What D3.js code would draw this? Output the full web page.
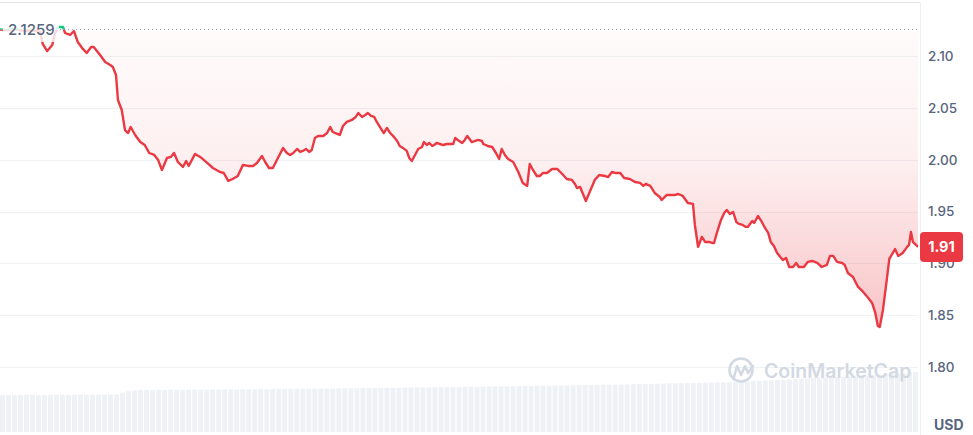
<!DOCTYPE html>
<html>
<head>
<meta charset="utf-8">
<script src="https://cdn.jsdelivr.net/npm/d3@7"></script>
<style>
  html, body { margin: 0; padding: 0; background: #fff; }
  svg { display: block; font-family: Inter, "Noto Sans", sans-serif; }
</style>
</head>
<body>
<svg id="chart" width="973" height="435"></svg>
<script>
// minutes since the start of the 24h window
var minutes = [0, 13, 25, 38, 50, 63, 67, 74, 82, 86, 91, 99, 102, 110, 116, 122, 130, 136, 143, 147,
  157, 165, 173, 177, 182, 185, 191, 196, 201, 205, 212, 220, 227, 234, 242, 248, 254, 262, 268, 273,
  279, 287, 292, 296, 306, 314, 325, 334, 345, 351, 358, 365, 373, 381, 389, 397, 403, 411, 416, 422,
  428, 436, 444, 450, 455, 460, 466, 471, 475, 480, 485, 489, 494, 499, 507, 513, 518, 522, 529, 533,
  538, 544, 552, 558, 562, 568, 573, 577, 582, 587, 591, 599, 602, 607, 612, 618, 623, 627, 632, 638,
  642, 646, 651, 656, 662, 665, 670, 673, 678, 681, 685, 690, 695, 701, 706, 711, 714, 718, 725, 729,
  733, 740, 750, 756, 758, 765, 772, 778, 783, 787, 792, 797, 805, 813, 820, 827, 831, 836, 842, 847,
  852, 858, 866, 874, 882, 889, 897, 902, 905, 910, 919, 925, 933, 940, 949, 954, 960, 965, 973, 979,
  988, 996, 1004, 1009, 1013, 1020, 1027, 1035, 1038, 1046, 1054, 1059, 1064, 1071, 1079, 1087, 1090, 1095, 1101, 1106,
  1112, 1117, 1120, 1125, 1131, 1136, 1140, 1145, 1150, 1155, 1159, 1165, 1170, 1173, 1180, 1183, 1189, 1195, 1200, 1205,
  1209, 1214, 1219, 1224, 1228, 1233, 1238, 1244, 1249, 1253, 1261, 1267, 1274, 1282, 1289, 1297, 1302, 1307, 1313, 1321,
  1325, 1330, 1338, 1346, 1354, 1362, 1368, 1373, 1377, 1380, 1385, 1391, 1395, 1404, 1409, 1416, 1423, 1426, 1429, 1432,
  1440];

var prices = [2.1259, 2.1254, 2.1264, 2.1244, 2.1254, 2.1235, 2.1119, 2.1051, 2.1109, 2.1215, 2.1283, 2.1283, 2.1225, 2.1206, 2.1244, 2.1138, 2.1071, 2.1032, 2.1090, 2.1090,
  2.1013, 2.0945, 2.0916, 2.0897, 2.0819, 2.0578, 2.0481, 2.0288, 2.0259, 2.0317, 2.0240, 2.0172, 2.0143, 2.0066, 2.0047, 1.9999, 1.9902, 2.0018, 2.0028, 2.0066,
  1.9979, 1.9931, 1.9989, 1.9941, 2.0057, 2.0028, 1.9970, 1.9921, 1.9883, 1.9873, 1.9796, 1.9815, 1.9844, 1.9950, 1.9941, 1.9941, 1.9970, 2.0037, 1.9979, 1.9921,
  1.9921, 2.0018, 2.0115, 2.0066, 2.0047, 2.0066, 2.0105, 2.0076, 2.0086, 2.0105, 2.0076, 2.0095, 2.0211, 2.0230, 2.0230, 2.0259, 2.0317, 2.0269, 2.0250, 2.0240,
  2.0327, 2.0366, 2.0385, 2.0414, 2.0452, 2.0414, 2.0433, 2.0452, 2.0424, 2.0414, 2.0366, 2.0288, 2.0259, 2.0308, 2.0259, 2.0221, 2.0182, 2.0134, 2.0115, 2.0086,
  2.0018, 1.9989, 2.0047, 2.0105, 2.0124, 2.0172, 2.0143, 2.0163, 2.0134, 2.0143, 2.0163, 2.0153, 2.0143, 2.0153, 2.0153, 2.0153, 2.0211, 2.0192, 2.0163, 2.0192,
  2.0230, 2.0172, 2.0192, 2.0182, 2.0153, 2.0134, 2.0124, 2.0066, 2.0008, 2.0105, 2.0047, 2.0008, 1.9979, 1.9883, 1.9777, 1.9748, 1.9960, 1.9902, 1.9844, 1.9844,
  1.9873, 1.9873, 1.9912, 1.9912, 1.9863, 1.9815, 1.9806, 1.9767, 1.9728, 1.9738, 1.9603, 1.9690, 1.9806, 1.9854, 1.9844, 1.9834, 1.9883, 1.9873, 1.9873, 1.9825,
  1.9815, 1.9786, 1.9777, 1.9748, 1.9767, 1.9748, 1.9680, 1.9641, 1.9612, 1.9661, 1.9661, 1.9661, 1.9670, 1.9651, 1.9583, 1.9574, 1.9371, 1.9159, 1.9255, 1.9207,
  1.9207, 1.9197, 1.9197, 1.9304, 1.9419, 1.9487, 1.9516, 1.9477, 1.9497, 1.9400, 1.9381, 1.9371, 1.9352, 1.9352, 1.9410, 1.9390, 1.9458, 1.9400, 1.9342, 1.9294,
  1.9207, 1.9168, 1.9101, 1.9062, 1.9033, 1.9052, 1.8965, 1.8965, 1.9004, 1.8965, 1.8965, 1.9014, 1.9023, 1.9004, 1.8965, 1.8985, 1.9072, 1.9072, 1.9014, 1.9004,
  1.8985, 1.8907, 1.8869, 1.8772, 1.8724, 1.8666, 1.8618, 1.8521, 1.8396, 1.8386, 1.8550, 1.8840, 1.9043, 1.9139, 1.9072, 1.9101, 1.9159, 1.9178, 1.9304, 1.9207,
  1.9159];

var openPrice = 2.1259;
var yTicks = [1.80, 1.85, 1.90, 1.95, 2.00, 2.05, 2.10];

// 24h volume, millions USD (one bar per ~9.4 min)
var volumes = [37.1, 37.0, 37.2, 37.1, 37.3, 37.2, 37.0, 37.1, 37.2, 37.3, 37.2, 37.1, 37.3, 37.4, 37.2, 37.3, 37.4, 37.3, 37.5, 37.6,
  39.5, 40.8, 41.6, 42.0, 42.1, 42.0, 42.2, 42.1, 42.3, 42.2,
  42.1, 42.3, 42.4, 42.2, 42.3, 42.5, 42.4, 42.6, 42.5, 42.4, 42.6, 42.7, 42.6, 42.8, 42.7, 42.9, 43.0, 42.9, 43.1, 43.0,
  43.2, 43.3, 43.2, 43.4, 43.5, 43.4, 43.6, 43.7, 43.8, 43.7, 43.9, 44.0, 44.1, 44.0, 44.2, 44.3, 44.2, 44.4, 44.5, 44.6,
  44.5, 44.7, 44.8, 44.9, 45.0, 44.9, 45.1, 45.2, 45.3, 45.2,
  45.4, 45.5, 45.6, 45.7, 45.6, 45.8, 45.9, 46.0, 46.1, 46.2, 46.3, 46.2, 46.4, 46.5, 46.6, 46.7, 46.8, 46.9, 47.0, 47.1,
  47.2, 47.3, 47.4, 47.5, 47.6, 47.8, 47.9, 48.0, 48.1, 48.3,
  48.4, 48.6, 48.7, 48.9, 49.0, 49.1, 49.2, 49.3, 49.4, 49.5, 49.6, 49.8, 50.0, 50.2, 50.5, 50.8, 51.1, 51.4, 51.7, 52.0,
  52.3, 52.6, 52.9, 53.2, 53.5, 53.8, 54.1, 54.4, 54.7, 55.0, 55.3, 55.6, 55.9, 56.2, 56.5, 56.8, 57.2, 57.6, 58.0, 58.5,
  59.0, 59.5, 60.0];

var red = '#ea3943';
var green = '#16c784';
var grey = '#58667e';

var svg = d3.select('#chart');
var plotW = 918;
var plotBottom = 432;

var data = minutes.map((m, i) => ({ m: m, p: prices[i] }));

var x = d3.scaleLinear().domain([0, 1440]).range([0, plotW]);
var y = d3.scaleLinear().domain([1.80, 2.10]).range([366.9, 56.3]);
var vx = d3.scaleBand().domain(d3.range(volumes.length)).range([0, plotW]).paddingInner(0.18);
var vy = d3.scaleLinear().domain([0, 60]).range([plotBottom, plotBottom - 60]);

var yOpen = y(openPrice);
var yMin = y(d3.min(prices));

var defs = svg.append('defs');
var grad = defs.append('linearGradient')
  .attr('id', 'fillGrad')
  .attr('gradientUnits', 'userSpaceOnUse')
  .attr('x1', 0).attr('x2', 0)
  .attr('y1', yOpen).attr('y2', yMin);
grad.append('stop').attr('offset', '0%').attr('stop-color', red).attr('stop-opacity', 0.02);
grad.append('stop').attr('offset', '45%').attr('stop-color', red).attr('stop-opacity', 0.08);
grad.append('stop').attr('offset', '100%').attr('stop-color', red).attr('stop-opacity', 0.3);

defs.append('clipPath').attr('id', 'below')
  .append('rect').attr('x', 0).attr('y', yOpen).attr('width', plotW).attr('height', plotBottom - yOpen);
defs.append('clipPath').attr('id', 'above')
  .append('rect').attr('x', 0).attr('y', 0).attr('width', plotW).attr('height', yOpen);

// frame
svg.append('line')
  .attr('x1', 0).attr('x2', plotW + 2)
  .attr('y1', 2.5).attr('y2', 2.5)
  .attr('stroke', '#e3e6ea');
svg.append('line')
  .attr('x1', plotW + 2.5).attr('x2', plotW + 2.5)
  .attr('y1', 2).attr('y2', 435)
  .attr('stroke', '#eff2f5');

// volume bars
svg.append('g').selectAll('rect')
  .data(volumes)
  .enter().append('rect')
  .attr('x', (d, i) => vx(i))
  .attr('width', vx.bandwidth())
  .attr('y', d => vy(d))
  .attr('height', d => plotBottom - vy(d))
  .attr('fill', '#eef1f5');

// grid
svg.append('g').selectAll('line')
  .data(yTicks)
  .enter().append('line')
  .attr('x1', 0).attr('x2', plotW)
  .attr('y1', d => Math.round(y(d)) + 0.5)
  .attr('y2', d => Math.round(y(d)) + 0.5)
  .attr('stroke', '#eff2f5');

// axis labels
svg.append('g').selectAll('text')
  .data(yTicks)
  .enter().append('text')
  .attr('x', 928)
  .attr('y', d => y(d))
  .attr('dy', '0.35em')
  .attr('font-size', 13.5)
  .attr('font-weight', 500)
  .attr('fill', grey)
  .text(d => d3.format('.2f')(d));

svg.append('text')
  .attr('x', 934).attr('y', 430)
  .attr('font-size', 14).attr('font-weight', 700)
  .attr('fill', grey)
  .text('USD');

// watermark
var wm = svg.append('g').attr('fill', 'none').attr('stroke', '#d3d9e3').attr('stroke-width', 2.6);
wm.append('circle').attr('cx', 741).attr('cy', 370).attr('r', 11.5);
wm.append('path')
  .attr('stroke-linejoin', 'round').attr('stroke-linecap', 'round')
  .attr('d', 'M734,377 L737,366 L741,375 L745,366 L748,373 L753,366');
svg.append('text')
  .attr('x', 764).attr('y', 378)
  .attr('font-size', 19.5).attr('font-weight', 600)
  .attr('fill', '#d3d9e3')
  .text('CoinMarketCap');

// fill below open
var area = d3.area()
  .x(d => x(d.m))
  .y0(yOpen)
  .y1(d => y(d.p));
svg.append('path')
  .datum(data)
  .attr('clip-path', 'url(#below)')
  .attr('fill', 'url(#fillGrad)')
  .attr('d', area);

// open price dotted line
svg.append('line')
  .attr('x1', 0).attr('x2', plotW)
  .attr('y1', yOpen).attr('y2', yOpen)
  .attr('stroke', '#a1a7bb')
  .attr('stroke-width', 1)
  .attr('stroke-dasharray', '1,3');

var line = d3.line()
  .x(d => x(d.m))
  .y(d => y(d.p));

svg.append('path')
  .datum(data)
  .attr('clip-path', 'url(#below)')
  .attr('fill', 'none')
  .attr('stroke', red)
  .attr('stroke-width', 2.4)
  .attr('stroke-linejoin', 'round')
  .attr('d', line);
svg.append('path')
  .datum(data)
  .attr('clip-path', 'url(#above)')
  .attr('fill', 'none')
  .attr('stroke', green)
  .attr('stroke-width', 2.4)
  .attr('stroke-linejoin', 'round')
  .attr('d', line);

// open price label
svg.append('rect')
  .attr('x', 3).attr('y', 17).attr('width', 56).attr('height', 25)
  .attr('fill', '#fff').attr('fill-opacity', 0.8);
svg.append('text')
  .attr('x', 8).attr('y', yOpen)
  .attr('dy', '0.35em')
  .attr('font-size', 15).attr('font-weight', 500)
  .attr('fill', grey)
  .text(openPrice.toFixed(4));

// current price tag
var last = prices[prices.length - 1];
var tagY = y(last);
svg.append('rect')
  .attr('x', 920).attr('y', tagY - 15)
  .attr('width', 43).attr('height', 30)
  .attr('rx', 4)
  .attr('fill', red);
svg.append('text')
  .attr('x', 941.5).attr('y', tagY)
  .attr('dy', '0.36em')
  .attr('text-anchor', 'middle')
  .attr('font-size', 14.5).attr('font-weight', 700)
  .attr('fill', '#fff')
  .text((Math.floor(last * 100) / 100).toFixed(2));
</script>
</body>
</html>
